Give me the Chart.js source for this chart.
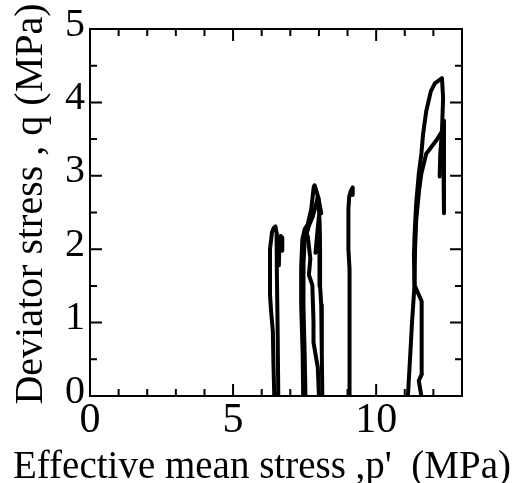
<!DOCTYPE html>
<html>
<head>
<meta charset="utf-8">
<script src="https://cdn.jsdelivr.net/npm/chart.js@4/dist/chart.umd.min.js"></script>
<style>
  html, body { margin: 0; padding: 0; background: #fff; }
  #wrap { width: 525px; height: 483px; }
</style>
</head>
<body>
<div id="wrap"><canvas id="c" width="525" height="483"></canvas></div>
<script>
// Stress paths: effective mean stress p' (MPa) and deviator stress q (MPa)
const pathA1_p = [6.44, 6.41, 6.39, 6.33, 6.29, 6.29, 6.36, 6.42, 6.48, 6.52, 6.53, 6.53, 6.56, 6.58];
const pathA1_q = [0.00, 0.45, 0.88, 1.15, 1.38, 2.00, 2.23, 2.29, 2.31, 2.22, 2.14, 1.70, 0.79, 0.00];
const pathA2_p = [6.60, 6.62, 6.66, 6.71, 6.72, 6.72];
const pathA2_q = [1.78, 2.12, 2.18, 2.16, 2.05, 1.98];

const pathB1_p = [7.45, 7.43, 7.38, 7.38, 7.42, 7.50, 7.61, 7.73, 7.82, 7.85, 7.92, 7.98, 8.08];
const pathB1_q = [0.00, 0.60, 1.24, 1.75, 2.13, 2.27, 2.34, 2.54, 2.85, 2.87, 2.78, 2.70, 2.49];
const pathB2_p = [7.53, 7.50, 7.46, 7.46, 7.50, 7.65, 7.79, 7.91, 7.96];
const pathB2_q = [0.00, 0.60, 1.20, 1.80, 2.10, 2.32, 2.45, 2.63, 2.72];
const pathB3_p = [7.61, 7.70, 7.65, 7.77, 7.81, 7.81, 7.96, 8.00];
const pathB3_q = [2.18, 1.87, 1.65, 1.51, 1.02, 0.73, 0.39, 0.00];
const pathB4_p = [7.98, 8.02, 8.04, 8.04, 8.08, 8.10, 8.12];
const pathB4_q = [2.70, 2.40, 2.00, 1.50, 1.24, 0.60, 0.00];
const pathB5_p = [7.88, 7.95, 8.00, 8.02, 8.02];
const pathB5_q = [1.95, 2.25, 2.45, 2.20, 1.50];

const pathC_p = [9.07, 9.07, 9.07, 9.03, 9.03, 9.06, 9.12, 9.18, 9.18];
const pathC_q = [0.00, 1.00, 1.73, 2.00, 2.55, 2.72, 2.80, 2.84, 2.74];

const pathD1_p = [11.11, 11.20, 11.25, 11.34, 11.32, 11.34, 11.40, 11.49, 11.58, 11.64, 11.75, 11.91, 12.05, 12.30, 12.34, 12.30, 12.24, 12.22];
const pathD1_q = [0.00, 0.62, 0.98, 1.51, 1.91, 2.18, 2.63, 3.03, 3.30, 3.57, 3.88, 4.15, 4.26, 4.33, 4.06, 3.61, 3.30, 2.99];
const pathD2_p = [11.58, 11.49, 11.60, 11.60, 11.58, 11.34, 11.36, 11.40, 11.50, 11.58, 11.75, 12.10, 12.34, 12.37, 12.37];
const pathD2_q = [0.00, 0.21, 0.30, 0.90, 1.29, 1.51, 2.00, 2.40, 2.80, 3.03, 3.30, 3.48, 3.63, 3.75, 2.49];

const paths = [
  [pathA1_p, pathA1_q], [pathA2_p, pathA2_q],
  [pathB1_p, pathB1_q], [pathB2_p, pathB2_q], [pathB3_p, pathB3_q], [pathB4_p, pathB4_q], [pathB5_p, pathB5_q],
  [pathC_p, pathC_q],
  [pathD1_p, pathD1_q], [pathD2_p, pathD2_q]
];

// Axis ranges and labelled ticks
const xRange = [0, 13];
const yRange = [0, 5];
const xMajorTicks = [0, 5, 10];
const yMajorTicks = [0, 1, 2, 3, 4, 5];
const xTitle = "Effective mean stress ,p'  (MPa)";
const yTitle = "Deviator stress , q (MPa)";

const FONT = "'Liberation Serif', 'Times New Roman', Times, serif";

const datasets = paths.map(([p, q]) => ({
  data: p.map((v, i) => ({ x: v, y: q[i] })),
  showLine: true,
  borderColor: '#000',
  borderWidth: 4,
  borderJoinStyle: 'round',
  borderCapStyle: 'round',
  pointRadius: 0,
  tension: 0,
  fill: false
}));

// Frame with inward major/minor tick marks on all four sides, plus axis titles
const framePlugin = {
  id: 'frame',
  afterDraw(chart) {
    const { ctx, chartArea: a, scales } = chart;
    const xs = scales.x, ys = scales.y;
    ctx.save();
    ctx.strokeStyle = '#000';
    ctx.lineWidth = 2;
    ctx.lineCap = 'butt';
    ctx.strokeRect(a.left, a.top, a.right - a.left, a.bottom - a.top);
    const majorLen = 12, minorLen = 7;
    ctx.beginPath();
    for (let v = xRange[0]; v <= xRange[1]; v += 1) {
      const len = xMajorTicks.includes(v) ? majorLen : minorLen;
      const px = xs.getPixelForValue(v);
      ctx.moveTo(px, a.bottom); ctx.lineTo(px, a.bottom - len);
      ctx.moveTo(px, a.top); ctx.lineTo(px, a.top + len);
    }
    for (let v = yRange[0]; v <= yRange[1] + 1e-9; v += 0.5) {
      const len = yMajorTicks.includes(v) ? majorLen : minorLen;
      const py = ys.getPixelForValue(v);
      ctx.moveTo(a.left, py); ctx.lineTo(a.left + len, py);
      ctx.moveTo(a.right, py); ctx.lineTo(a.right - len, py);
    }
    ctx.stroke();

    ctx.fillStyle = '#000';
    ctx.textAlign = 'center';
    ctx.textBaseline = 'alphabetic';
    ctx.font = '39px ' + FONT;
    ctx.fillText(xTitle, 262, 478);
    ctx.font = '40px ' + FONT;
    ctx.translate(42, 204);
    ctx.rotate(-Math.PI / 2);
    ctx.fillText(yTitle, 0, 0);
    ctx.restore();
  }
};

new Chart(document.getElementById('c'), {
  type: 'scatter',
  data: { datasets },
  options: {
    responsive: false,
    animation: false,
    layout: { padding: { top: 23, right: 63, left: 0, bottom: 0 } },
    plugins: { legend: { display: false }, tooltip: { enabled: false } },
    scales: {
      x: {
        type: 'linear',
        min: xRange[0], max: xRange[1],
        grid: { display: false, drawTicks: false },
        border: { display: false },
        ticks: {
          stepSize: 5,
          includeBounds: false,
          autoSkip: false,
          maxRotation: 0,
          color: '#000',
          padding: 0,
          font: { family: FONT, size: 42 },
          callback: v => (xMajorTicks.includes(v) ? String(v) : '')
        },
        afterFit(s) { s.height = 87; }
      },
      y: {
        type: 'linear',
        min: yRange[0], max: yRange[1],
        grid: { display: false, drawTicks: false },
        border: { display: false },
        ticks: {
          stepSize: 1,
          color: '#000',
          padding: 5,
          labelOffset: -4,
          font: { family: FONT, size: 40 },
          callback: v => (yMajorTicks.includes(v) ? String(v) : '')
        },
        afterFit(s) { s.width = 90; }
      }
    }
  },
  plugins: [framePlugin]
});
</script>
</body>
</html>
